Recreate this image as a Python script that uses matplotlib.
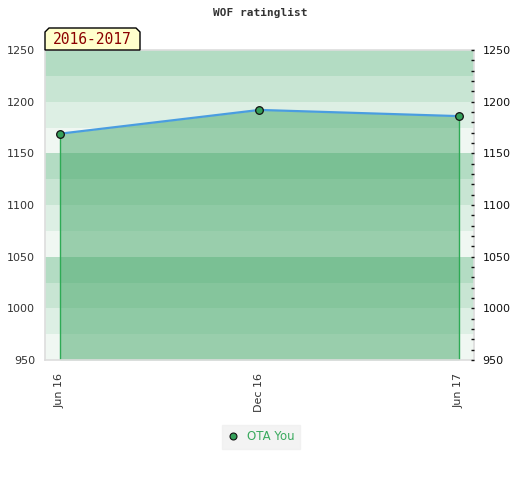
import matplotlib
matplotlib.use("Agg")
import matplotlib.pyplot as plt
from matplotlib.patches import Polygon
from matplotlib.lines import Line2D

dates = ["Jun 16", "Dec 16", "Jun 17"]
ratings = [1169, 1192, 1186]
series_name = "OTA You"
title = "WOF ratinglist"
period = "2016-2017"
yticks = [950, 1000, 1050, 1100, 1150, 1200, 1250]

band_colors = ["#f0f7f2", "#ddefe4", "#c8e5d3", "#b3dcc3"]  # bottom to top in each 100

fig = plt.figure(figsize=(5.2, 4.8), dpi=100)
ax = fig.add_axes([45/520, 1-360/480, (474-45)/520, 310/480])

x = list(range(len(dates)))
ax.set_xlim(-0.075, 2.075)
ax.set_ylim(950, 1250)

# background bands
for i, lo in enumerate(range(950, 1250, 25)):
    ax.axhspan(lo, lo+25, color=band_colors[i % 4], lw=0, zorder=0)

ax.fill_between(x, ratings, 950, color="#43a667", alpha=0.5, lw=0, zorder=1)
for xi, yi in [(x[0], ratings[0]), (x[-1], ratings[-1])]:
    ax.plot([xi, xi], [950, yi], color="#2eaa55", lw=1, zorder=2)
ax.plot(x, ratings, color="#4a9de0", lw=1.6, zorder=3)
ax.plot(x, ratings, ls="none", marker="o", ms=5.5, mfc="#35a05a", mec="#111111", mew=0.9, zorder=4)

for s in ax.spines.values():
    s.set_color("#dddddd")
    s.set_linewidth(1.2)

ax.set_xticks(x)
ax.set_xticklabels(dates, rotation=90, fontsize=8, color="#333333")
ax.tick_params(axis="x", length=0, pad=9)
ax.set_yticks(yticks)
ax.set_yticklabels([str(v) for v in yticks], fontsize=8, color="#333333")
ax.tick_params(axis="y", length=0, pad=7)

ax2 = ax.twinx()
ax2.set_ylim(950, 1250)
ax2.set_yticks(yticks)
ax2.set_yticklabels([str(v) for v in yticks], fontsize=8, color="#111111")
ax2.set_yticks([v for v in range(960, 1250, 10) if v % 50], minor=True)
ax2.tick_params(axis="y", which="both", length=2.2, width=1, color="#111111", pad=6, direction="in")
for s in ax2.spines.values():
    s.set_visible(False)

fig.text(260/520, 1-13/480, title, ha="center", va="center", fontsize=8,
         family="DejaVu Sans Mono", weight="bold", color="#333333")

# period label box with chamfered corners
bx0, bx1, by0, by1, c = 45, 140, 50, 28, 4
pts = [(bx0, by0), (bx0, by1+c), (bx0+c, by1), (bx1-c, by1), (bx1, by1+c), (bx1, by0)]
poly = Polygon([(px/520, 1-py/480) for px, py in pts], closed=True,
               transform=fig.transFigure, facecolor="#ffffcc", edgecolor="#000000", lw=1, zorder=10)
fig.patches.append(poly)
fig.text((bx0+bx1)/2/520, 1-40/480, period, ha="center", va="center", fontsize=10.5,
         family="DejaVu Sans Mono", color="#8b0000", zorder=11)

handle = Line2D([], [], ls="none", marker="o", ms=5, mfc="#35a05a", mec="#111111", mew=0.8)
leg = fig.legend([handle], [series_name], loc="center", bbox_to_anchor=(261/520, 1-437/480),
                 frameon=True, fontsize=8.5, handlelength=1, handletextpad=0.7,
                 borderpad=0.45, fancybox=False)
leg.get_frame().set_facecolor("#f0f0f0")
leg.get_frame().set_edgecolor("#f0f0f0")
for t in leg.get_texts():
    t.set_color("#3aaa5e")

fig.savefig("out.png", dpi=100)
